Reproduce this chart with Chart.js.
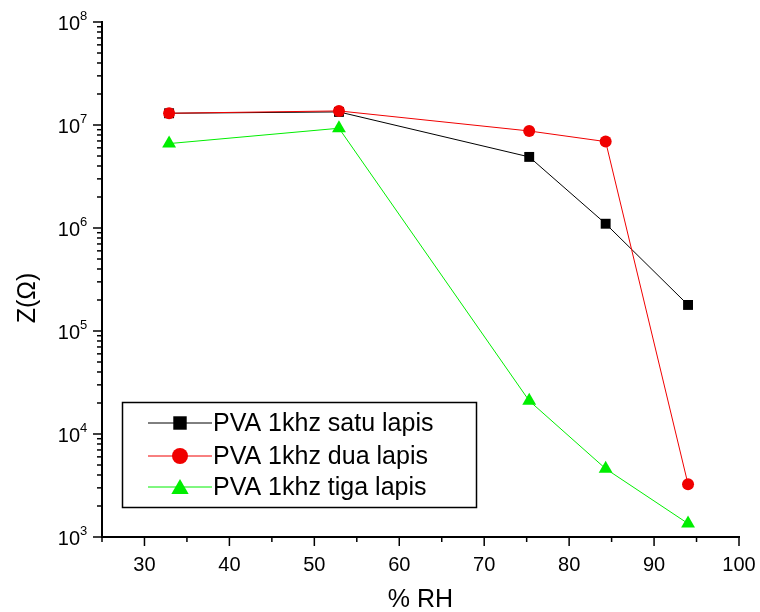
<!DOCTYPE html>
<html>
<head>
<meta charset="utf-8">
<script src="https://cdn.jsdelivr.net/npm/chart.js@4.4.0/dist/chart.umd.min.js"></script>
<style>
html,body{margin:0;padding:0;background:#fff;}
#wrap{width:760px;height:612px;}
</style>
</head>
<body>
<div id="wrap"><canvas id="chart" width="760" height="612"></canvas></div>
<script>
//relative humidity, x axis
var rh=[32.9,52.9,75.3,84.3,94];
//impedance Z (ohm) for each number of layers
var satuLapis=[1.3e7,1.34e7,4.9e6,1.1e6,1.79e5];
var duaLapis=[1.3e7,1.37e7,8.75e6,6.9e6,3.25e3];
var tigaLapis=[6.6e6,9.3e6,2.1e4,4.6e3,1.35e3];
var seriesNames=["PVA 1khz satu lapis","PVA 1khz dua lapis","PVA 1khz tiga lapis"];
//tick labels
var xTicks=[30,40,50,60,70,80,90,100];
var yExponents=[3,4,5,6,7,8];

var FONT="'Liberation Sans', Arial, sans-serif";

//pair x values with y values for the library
function toPoints(values){
    var pts=[];
    for(var i=0;i<rh.length;i++){
        pts.push({x:rh[i],y:values[i]});
    }
    return pts;
}

var styles=[
    {color:"#000000",point:"rect",radius:7,legendRadius:9.5},
    {color:"#f00000",point:"circle",radius:6,legendRadius:8},
    {color:"#00ee00",point:"triangle",radius:8,legendRadius:10}
];

//draws ticks, labels, titles and the legend box
var decor={
    id:"decor",
    afterDraw:function(chart){
        var ctx=chart.ctx;
        var xs=chart.scales.x;
        var ys=chart.scales.y;
        var area=chart.chartArea;
        ctx.save();
        ctx.strokeStyle="#000";
        ctx.fillStyle="#000";
        ctx.lineWidth=1.5;

        //x ticks
        for(var v=25;v<=100;v+=5){
            var px=xs.getPixelForValue(v);
            var len=(v%10==0)?9:5;
            ctx.beginPath();
            ctx.moveTo(px,area.bottom);
            ctx.lineTo(px,area.bottom+len);
            ctx.stroke();
        }
        //y ticks
        for(var e=3;e<=8;e++){
            for(var m=1;m<=9;m++){
                if(e==8 && m>1) break;
                var py=ys.getPixelForValue(m*Math.pow(10,e));
                var l=(m==1)?9:5;
                ctx.beginPath();
                ctx.moveTo(area.left,py);
                ctx.lineTo(area.left-l,py);
                ctx.stroke();
            }
        }

        //x tick labels
        ctx.font="20px "+FONT;
        ctx.textAlign="center";
        ctx.textBaseline="middle";
        for(var i=0;i<xTicks.length;i++){
            ctx.fillText(String(xTicks[i]),xs.getPixelForValue(xTicks[i]),area.bottom+28);
        }
        //y tick labels as powers of ten
        ctx.textBaseline="alphabetic";
        for(var j=0;j<yExponents.length;j++){
            var y=ys.getPixelForValue(Math.pow(10,yExponents[j]));
            ctx.font="20px "+FONT;
            ctx.textAlign="right";
            ctx.fillText("10",80,y+8);
            ctx.font="13px "+FONT;
            ctx.textAlign="left";
            ctx.fillText(String(yExponents[j]),80,y-2);
        }

        //axis titles
        ctx.font="25px "+FONT;
        ctx.textAlign="center";
        ctx.textBaseline="middle";
        ctx.fillText("% RH",(area.left+area.right)/2,600);
        ctx.save();
        ctx.translate(28,298);
        ctx.rotate(-Math.PI/2);
        ctx.fillText("Z(\u03A9)",0,0);
        ctx.restore();

        //legend
        ctx.lineWidth=1.5;
        ctx.strokeRect(122.5,402.5,354,105);
        var rowY=[423,456,487];
        for(var k=0;k<seriesNames.length;k++){
            var st=styles[k];
            ctx.strokeStyle=st.color;
            ctx.lineWidth=1;
            ctx.beginPath();
            ctx.moveTo(148,rowY[k]);
            ctx.lineTo(212,rowY[k]);
            ctx.stroke();
            ctx.fillStyle=st.color;
            var my=rowY[k]+(st.point=="triangle"?2:0);
            Chart.helpers.drawPoint(ctx,{pointStyle:st.point,radius:st.legendRadius,borderWidth:0,rotation:0},180,my);
            ctx.fillStyle="#000";
            ctx.font="25px "+FONT;
            ctx.textAlign="left";
            ctx.textBaseline="middle";
            ctx.fillText(seriesNames[k],213,rowY[k]+1);
        }
        ctx.restore();
    }
};

function makeDataset(label,values,st,order){
    return {
        label:label,
        data:toPoints(values),
        borderColor:st.color,
        backgroundColor:st.color,
        borderWidth:1,
        pointStyle:st.point,
        pointRadius:st.radius,
        pointBorderWidth:0,
        pointBackgroundColor:st.color,
        tension:0,
        order:order
    };
}

var chart=new Chart(document.getElementById("chart"),{
    type:"line",
    data:{
        datasets:[
            makeDataset(seriesNames[0],satuLapis,styles[0],1),
            makeDataset(seriesNames[1],duaLapis,styles[1],0),
            makeDataset(seriesNames[2],tigaLapis,styles[2],2)
        ]
    },
    options:{
        responsive:false,
        animation:false,
        devicePixelRatio:1,
        layout:{padding:{left:102,right:21,top:22,bottom:75}},
        plugins:{legend:{display:false},tooltip:{enabled:false}},
        scales:{
            x:{
                type:"linear",min:25,max:100,
                grid:{display:false,drawTicks:false},
                border:{display:true,color:"#000",width:2},
                ticks:{display:false},
                afterFit:function(s){s.height=0;}
            },
            y:{
                type:"logarithmic",min:1e3,max:1e8,
                grid:{display:false,drawTicks:false},
                border:{display:true,color:"#000",width:2},
                ticks:{display:false},
                afterFit:function(s){s.width=0;}
            }
        }
    },
    plugins:[decor]
});
</script>
</body>
</html>
